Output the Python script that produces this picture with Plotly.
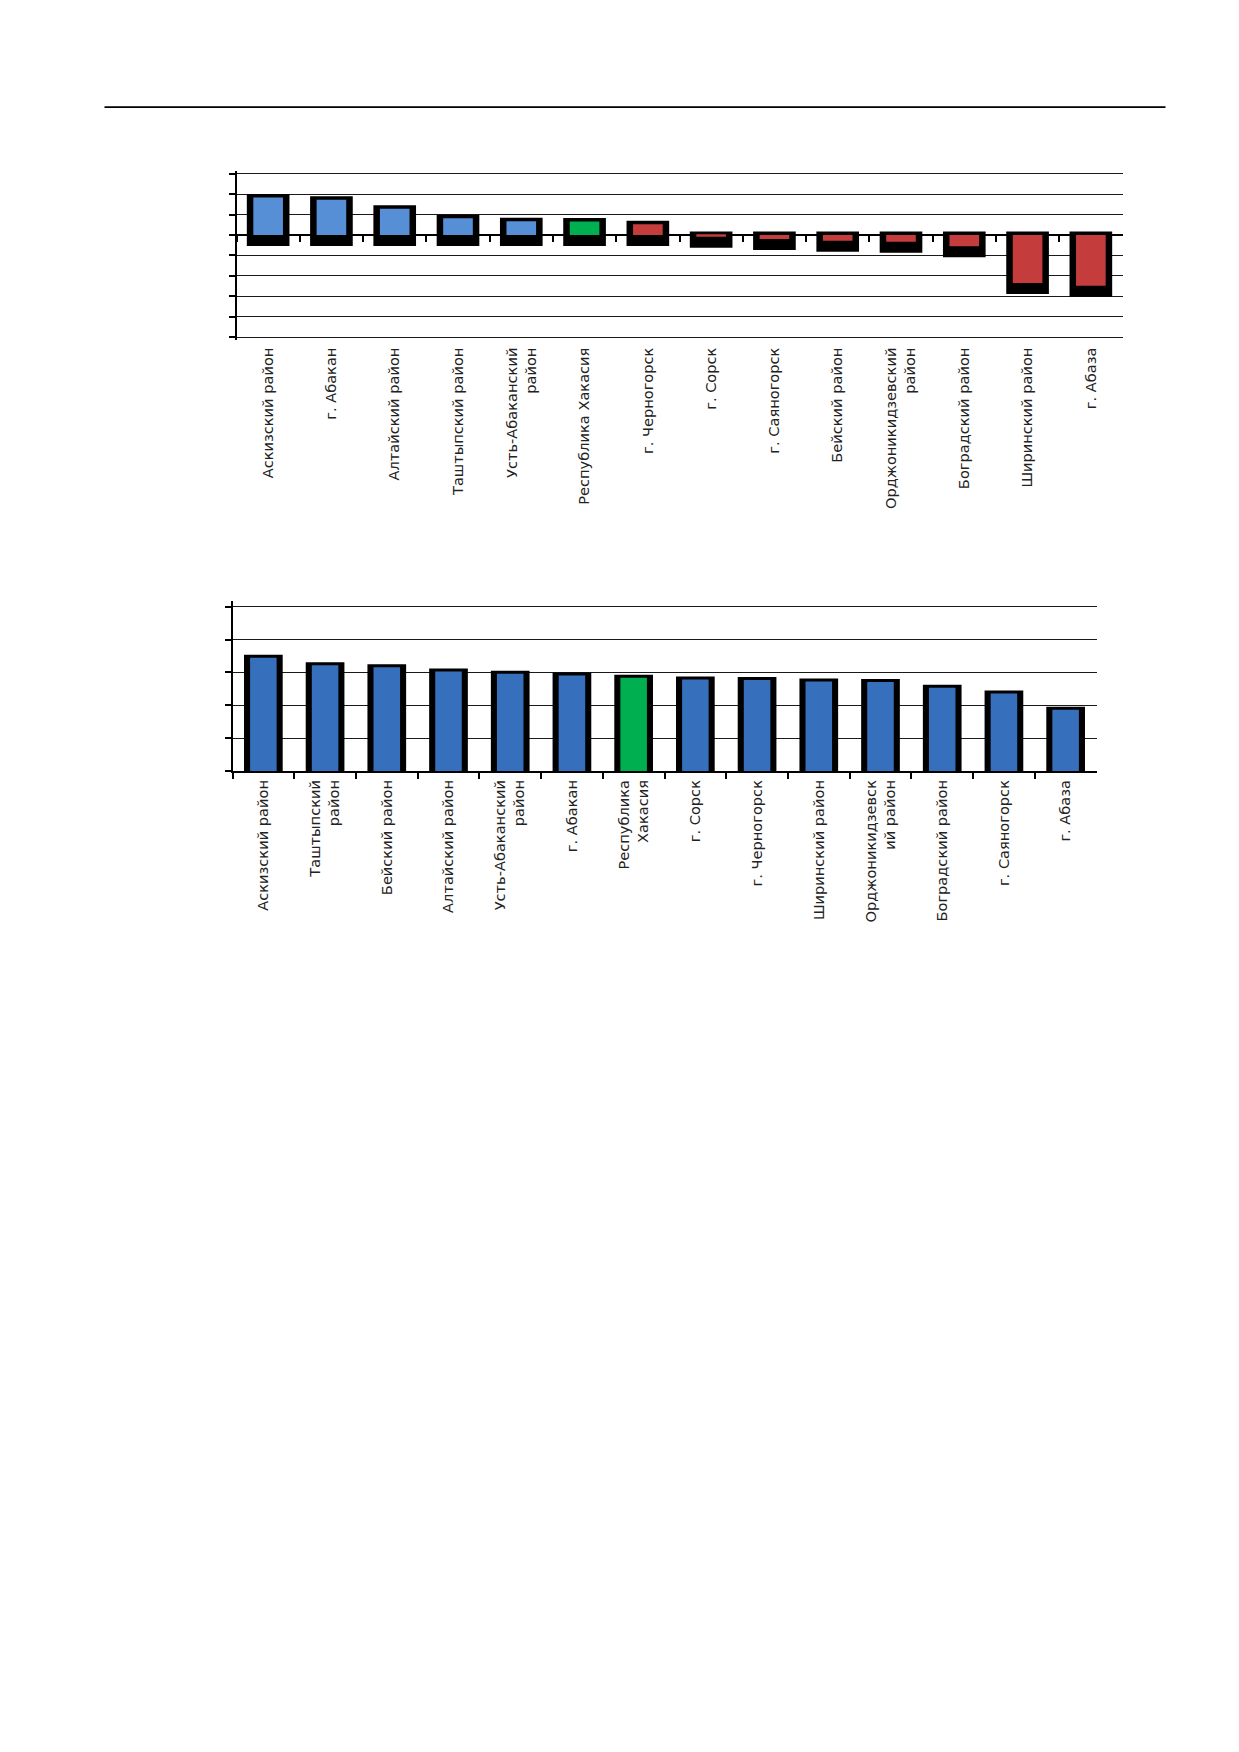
import plotly.graph_objects as go

W, H = 1239, 1752

# ---------- data ----------
top_labels = [
    "Аскизский район", "г. Абакан", "Алтайский район", "Таштыпский район",
    "Усть-Абаканский<br>район", "Республика Хакасия", "г. Черногорск", "г. Сорск",
    "г. Саяногорск", "Бейский район", "Орджоникидзевский<br>район",
    "Боградский район", "Ширинский район", "г. Абаза",
]
top_values = [1.83, 1.72, 1.28, 0.82, 0.67, 0.66, 0.53,
              -0.08, -0.19, -0.28, -0.33, -0.55, -2.35, -2.48]

bottom_labels = [
    "Аскизский район", "Таштыпский<br>район", "Бейский район", "Алтайский район",
    "Усть-Абаканский<br>район", "г. Абакан", "Республика<br>Хакасия", "г. Сорск",
    "г. Черногорск", "Ширинский район", "Орджоникидзевск<br>ий район",
    "Боградский район", "г. Саяногорск", "г. Абаза",
]
bottom_values = [3.45, 3.22, 3.16, 3.03, 2.96, 2.91, 2.84,
                 2.79, 2.77, 2.73, 2.71, 2.54, 2.36, 1.87]

REGION = "Республика"  # highlighted row (whole republic)

# ---------- colours ----------
BLUE_LIGHT = "#578fd6"
BLUE = "#3670bc"
RED = "#c43c3c"
GREEN = "#00b050"
FONT = dict(family="DejaVu Sans", size=14.6, color="#222222")

ref_top = next(v for l, v in zip(top_labels, top_values) if l.startswith(REGION))
top_colors = [GREEN if l.startswith(REGION) else (BLUE_LIGHT if v > ref_top else RED)
              for l, v in zip(top_labels, top_values)]
bottom_colors = [GREEN if l.startswith(REGION) else BLUE for l in bottom_labels]

OFF = 6.5  # small page offset


# pixel -> paper helpers (page is laid out in pixels)
def fx(px): return (px - OFF) / W
def fy(py): return 1 - (py - OFF) / H


# ---------- top chart geometry ----------
top_range = [-5.12, 3.12]
top_unit = 20.45          # px per gridline step
top_zero = 233.5          # px of the zero line
top_dom = [fy(top_zero - top_range[0] * top_unit), fy(top_zero - top_range[1] * top_unit)]

# shadow box behind each bar (slightly taller and dropping below)
top_sh_base = [min(v, 0) - 0.54 for v in top_values]
top_sh_h = [max(v, 0) + 0.17 - b for v, b in zip(top_values, top_sh_base)]

# ---------- bottom chart geometry ----------
bot_range = [0, 5.17]
bot_unit = 32.9
bot_zero = 769.7
bot_dom = [fy(bot_zero), fy(bot_zero - bot_range[1] * bot_unit)]
bot_sh = [v + 0.09 for v in bottom_values]

fig = go.Figure()

# top chart: black shadows, then coloured bars on overlaid axis
fig.add_trace(go.Bar(x=top_labels, y=top_sh_h, base=top_sh_base, width=0.674,
                     marker=dict(color="black", line=dict(width=0)),
                     xaxis="x", yaxis="y", hoverinfo="skip"))
fig.add_trace(go.Bar(x=top_labels, y=top_values, width=0.468,
                     marker=dict(color=top_colors, line=dict(width=0)),
                     xaxis="x2", yaxis="y"))

# bottom chart
fig.add_trace(go.Bar(x=bottom_labels, y=bot_sh, width=0.627,
                     marker=dict(color="black", line=dict(width=0)),
                     xaxis="x3", yaxis="y3", hoverinfo="skip"))
fig.add_trace(go.Bar(x=bottom_labels, y=bottom_values, width=0.43,
                     marker=dict(color=bottom_colors, line=dict(width=0)),
                     xaxis="x3", yaxis="y3"))

cat_range = [-0.5, len(top_labels) - 0.5]
grid = dict(showgrid=True, gridcolor="#1a1a1a", gridwidth=1.4, zeroline=False,
            showline=True, linecolor="black", linewidth=2, ticks="outside",
            ticklen=6, tickwidth=1.5, tickcolor="black", showticklabels=False,
            dtick=1, tick0=0)

fig.update_layout(
    width=W, height=H,
    margin=dict(l=0, r=0, t=0, b=0),
    paper_bgcolor="white", plot_bgcolor="white",
    showlegend=False, barmode="overlay",
    font=FONT,
    xaxis=dict(domain=[fx(235), fx(1121)], anchor="y", type="category",
               categoryorder="array", categoryarray=top_labels, range=cat_range,
               showline=False, showgrid=False, ticks="", tickangle=-90,
               tickfont=FONT, ticklabelstandoff=4),
    xaxis2=dict(overlaying="x", anchor="free",
                position=top_dom[0] + (0 - top_range[0]) / (top_range[1] - top_range[0]) * (top_dom[1] - top_dom[0]),
                type="category", categoryorder="array", categoryarray=top_labels,
                range=cat_range, showline=True, linecolor="black", linewidth=1.5,
                ticks="outside", tickson="boundaries", ticklen=6, tickwidth=2,
                tickcolor="black", showticklabels=False, showgrid=False,
                layer="below traces"),
    yaxis=dict(domain=top_dom, anchor="x", range=top_range, **grid),
    xaxis3=dict(domain=[fx(231), fx(1095)], anchor="y3", type="category",
                categoryorder="array", categoryarray=bottom_labels, range=cat_range,
                showline=True, linecolor="black", linewidth=2, showgrid=False,
                ticks="outside", tickson="boundaries", ticklen=6, tickwidth=2,
                tickcolor="black", tickangle=-90, tickfont=FONT,
                ticklabelstandoff=1),
    yaxis3=dict(domain=bot_dom, anchor="x3", range=bot_range, **grid),
    shapes=[dict(type="line", xref="paper", yref="paper",
                 x0=fx(103), x1=fx(1164), y0=fy(105.7), y1=fy(105.7),
                 line=dict(color="black", width=1.8))],
)

fig.write_html("out.html")
